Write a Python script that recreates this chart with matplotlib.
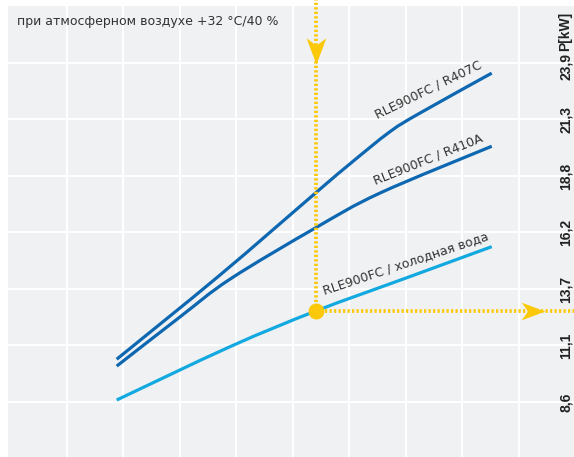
import matplotlib
matplotlib.use('Agg')
import matplotlib.pyplot as plt
from matplotlib.path import Path
from matplotlib.patches import PathPatch

# curves (x in grid units, y in kW)
r407c_x = [1.885, 3.713, 5.412, 6.0, 6.722, 7.253, 8.522]
r407c_y = [10.53, 14.33, 18.05, 19.32, 20.80, 21.64, 23.44]
r410a_x = [1.885, 3.0, 3.894, 5.412, 6.545, 8.522]
r410a_y = [10.22, 12.43, 14.15, 16.47, 18.03, 20.14]
water_x = [1.885, 3.894, 5.412, 7.0, 8.522]
water_y = [8.69, 11.10, 12.71, 14.19, 15.61]

# operating point
op_x = 5.412
op_y = 12.71

ytick_vals = [8.6, 11.15, 13.7, 16.25, 18.8, 21.35, 23.9]
ytick_labels = ['8,6', '11,1', '13,7', '16,2', '18,8', '21,3', '23,9']

dark_blue = '#0d67b1'
light_blue = '#12a9e1'
yellow = '#fcc80a'
txt = '#333333'

plt.rcParams['font.family'] = ['DejaVu Sans']


def smooth_path(xs, ys):
    # catmull-rom through the points, as bezier segments
    pts = list(zip(xs, ys))
    ext = [pts[0]] + pts + [pts[-1]]
    verts = [pts[0]]
    codes = [Path.MOVETO]
    for i in range(1, len(ext) - 2):
        p0, p1, p2, p3 = ext[i - 1], ext[i], ext[i + 1], ext[i + 2]
        c1 = (p1[0] + (p2[0] - p0[0]) / 6, p1[1] + (p2[1] - p0[1]) / 6)
        c2 = (p2[0] - (p3[0] - p1[0]) / 6, p2[1] - (p3[1] - p1[1]) / 6)
        verts += [c1, c2, p2]
        codes += [Path.CURVE4] * 3
    return Path(verts, codes)


fig = plt.figure(figsize=(5.74, 4.57), dpi=100)
ax = fig.add_axes([8/574, 0, 566/574, 451/457])
ax.set_facecolor('#f0f1f3')
ax.set_xlim(-0.039, 9.978)
ax.set_ylim(6.118, 26.47)
for s in ax.spines.values():
    s.set_visible(False)
ax.set_xticks(range(1, 10))
ax.set_yticks(ytick_vals)
ax.tick_params(length=0, labelleft=False, labelbottom=False)
ax.grid(True, color='white', lw=1.5)
ax.set_axisbelow(True)

# curves
for xs, ys, c in [(r407c_x, r407c_y, dark_blue), (r410a_x, r410a_y, dark_blue),
                  (water_x, water_y, light_blue)]:
    ax.add_patch(PathPatch(smooth_path(xs, ys), fill=False, edgecolor=c, lw=2.3,
                           capstyle='butt', zorder=3))

# yellow guide lines
dots = (0, (0.6, 0.6))
ax.plot([op_x, op_x], [op_y, 26.9], color=yellow, lw=2.7, ls=dots,
        dash_capstyle='butt', clip_on=False, zorder=4)
ax.plot([op_x, 10.2], [op_y, op_y], color=yellow, lw=2.7, ls=dots,
        dash_capstyle='butt', clip_on=False, zorder=4)

right_head = Path([(1, 0), (-1, 0.75), (-0.45, 0), (-1, -0.75), (1, 0)],
                  [Path.MOVETO, Path.LINETO, Path.LINETO, Path.LINETO, Path.CLOSEPOLY])
down_head = Path([(0, -1), (0.75, 1), (0, 0.45), (-0.75, 1), (0, -1)],
                 [Path.MOVETO, Path.LINETO, Path.LINETO, Path.LINETO, Path.CLOSEPOLY])
ax.plot(9.25, op_y, marker=right_head, ms=17, color=yellow, mec='none', zorder=5)
ax.plot(op_x, 24.44, marker=down_head, ms=19, color=yellow, mec='none', zorder=5)
ax.plot(op_x, op_y, marker='o', ms=11.5, color=yellow, mec='none', zorder=6)

# labels on curves
ax.text(7.395, 22.68, 'RLE900FC / R407C', rotation=26, rotation_mode='anchor',
        ha='center', va='center', fontsize=9, color=txt)
ax.text(7.395, 19.52, 'RLE900FC / R410A', rotation=22, rotation_mode='anchor',
        ha='center', va='center', fontsize=9, color=txt)
ax.text(7.005, 14.87, 'RLE900FC / холодная вода', rotation=18.5, rotation_mode='anchor',
        ha='center', va='center', fontsize=9, color=txt)

# y tick labels inside the plot
label_y = ytick_vals[:-1] + [23.72]
for v, lab in zip(label_y, ytick_labels):
    ax.text(0.985, v, lab, rotation=90, ha='center', va='center', fontsize=10,
            fontweight='bold', color='#222222', family='Liberation Sans',
            transform=ax.get_yaxis_transform())
ax.text(0.985, 25.33, 'P[kW]', rotation=90, ha='center', va='center', fontsize=10,
        fontweight='bold', color='#222222', family='Liberation Sans',
        transform=ax.get_yaxis_transform())

fig.text(17/574, 1 - 25/457, 'при атмосферном воздухе +32 °C/40 %', fontsize=9,
         color=txt, va='baseline', ha='left')

fig.savefig('out.png', dpi=100)
